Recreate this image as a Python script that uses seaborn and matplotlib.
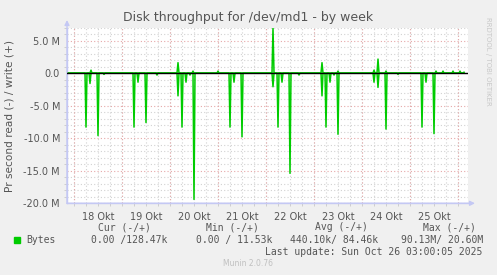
import numpy as np
import pandas as pd
import matplotlib
matplotlib.use("Agg")
import matplotlib.pyplot as plt
import seaborn as sns

# ---------------- data (hours since 18 Okt 00:00, values in MB/s) ----------------
day_labels = ["18 Okt", "19 Okt", "20 Okt", "21 Okt", "22 Okt", "23 Okt", "24 Okt", "25 Okt"]

read_hours = [6, 8, 12, 15, 30, 32, 36, 41.5, 52, 54, 56, 58, 60, 78, 80, 84,
              99.5, 102, 104, 108, 112.5, 124, 126, 128, 130, 132, 150, 152,
              156, 162, 174, 176, 180]
read_values = [8.3, 1.6, 9.6, 0.2, 8.3, 1.4, 7.6, 0.3, 3.5, 8.3, 1.4, 0.3, 19.4,
               8.3, 1.4, 9.8, 2.1, 8.3, 1.4, 15.4, 0.3, 3.5, 8.3, 1.4, 0.3,
               9.4, 1.4, 2.2, 8.6, 0.2, 8.3, 1.4, 9.3]

write_hours = [8.5, 52, 59.5, 72, 99.5, 124, 132, 150, 152, 156, 181, 184.5,
               189.5, 193, 195]
write_values = [0.45, 1.6, 0.3, 0.3, 6.9, 1.6, 0.3, 0.45, 2.15, 0.3, 0.3, 0.3,
                0.3, 0.3, 0.13]

y_ticks = [5, 0, -5, -10, -15, -20]
y_tick_labels = ["5.0 M", "0.0", "-5.0 M", "-10.0 M", "-15.0 M", "-20.0 M"]

legend_name = "Bytes"
legend_headers = ["Cur (-/+)", "Min (-/+)", "Avg (-/+)", "Max (-/+)"]
legend_values = ["0.00 /128.47k", "0.00 / 11.53k", "440.10k/ 84.46k", "90.13M/ 20.60M"]

# ---------------- build series on 30-minute grid ----------------
t = np.arange(-3.5, 195.01, 0.5)
read = np.zeros_like(t)
write = np.zeros_like(t)
for h, v in zip(read_hours, read_values):
    read[np.argmin(np.abs(t - h))] = -v
for h, v in zip(write_hours, write_values):
    write[np.argmin(np.abs(t - h))] = v
df = pd.concat([
    pd.DataFrame({"hour": t, "value": read, "dir": "read"}),
    pd.DataFrame({"hour": t, "value": write, "dir": "write"}),
])

# ---------------- figure ----------------
W, H = 497, 275
fig = plt.figure(figsize=(W / 100, H / 100), dpi=100, facecolor="#F0F0F0")
L, R, T, B = 67, 468, 27.5, 203.3
ax = fig.add_axes([L / W, 1 - B / H, (R - L) / W, (B - T) / H])
ax.set_facecolor("white")

xmin, xmax = -3.5, (R - 74) / 2.0
ymin, ymax = -20.0, (73 - T) / 6.5
ax.set_xlim(xmin, xmax)
ax.set_ylim(ymin, ymax)

green = "#00CC00"
sns.lineplot(data=df, x="hour", y="value", hue="dir",
             palette={"read": green, "write": green}, linewidth=1.1,
             legend=False, ax=ax, zorder=3, estimator=None)

# grid
grey = "#D2D2D2"
red = "#E6A8A8"
dot = (0, (1, 2))
ax.set_xticks([12 + 24 * i for i in range(len(day_labels))])
ax.set_xticklabels(day_labels)
ax.xaxis.remove_overlapping_locs = False
ax.set_xticks(np.arange(0, xmax, 6), minor=True)
ax.set_yticks(y_ticks)
ax.set_yticklabels(y_tick_labels)
ax.set_yticks(np.arange(-20, 8, 1), minor=True)
ax.grid(which="minor", axis="both", color=grey, linestyle=dot, linewidth=0.8, zorder=1)
ax.grid(which="major", axis="y", color=red, linestyle=dot, linewidth=0.8, zorder=1)
ax.grid(which="major", axis="x", visible=False)
for d in range(0, 9):
    ax.axvline(24 * d, color=red, linestyle=dot, linewidth=0.8, zorder=1.5)
ax.set_axisbelow(True)
ax.axhline(0, color="black", linewidth=1.0, zorder=4)

ax.tick_params(axis="both", which="major", length=0, labelsize=7,
               labelcolor="#555555", pad=5)
ax.tick_params(axis="x", which="major", pad=6)
ax.tick_params(axis="both", which="minor", length=2, width=0.6, color="#C8C8C8")
for lab in ax.get_xticklabels() + ax.get_yticklabels():
    lab.set_family("DejaVu Sans")

for s in ["top", "right"]:
    ax.spines[s].set_visible(False)
axis_col = "#C4C8F4"
for s in ["left", "bottom"]:
    ax.spines[s].set_color(axis_col)
    ax.spines[s].set_linewidth(1.0)

# axis arrows
ax.annotate("", xy=(L / W, 1 - 20 / H), xytext=(L / W, 1 - B / H),
            xycoords="figure fraction",
            arrowprops=dict(arrowstyle="-|>", color=axis_col, lw=1.0,
                            mutation_scale=7, shrinkA=0, shrinkB=0))
ax.annotate("", xy=(475 / W, 1 - B / H), xytext=(L / W, 1 - B / H),
            xycoords="figure fraction",
            arrowprops=dict(arrowstyle="-|>", color=axis_col, lw=1.0,
                            mutation_scale=7, shrinkA=0, shrinkB=0))

ax.set_xlabel("")
ax.set_ylabel("")

txt = "#555555"
fig.text(248 / W, 1 - 17 / H, "Disk throughput for /dev/md1 - by week",
         ha="center", va="center", fontsize=9, color=txt, family="DejaVu Sans")
fig.text(10 / W, 1 - 116.5 / H, "Pr second read (-) / write (+)", rotation=90,
         ha="center", va="center", fontsize=7.6, color=txt, family="DejaVu Sans")
fig.text(488 / W, 1 - 61 / H, "RRDTOOL / TOBI OETIKER", rotation=270,
         ha="center", va="center", fontsize=5, color="#C8C8C8", family="DejaVu Sans")

mono = "DejaVu Sans Mono"
fig.patches.append(plt.Rectangle((14 / W, 1 - 243 / H), 6 / W, 6 / H,
                                 transform=fig.transFigure, color=green))
fig.text(26 / W, 1 - 240 / H, legend_name, ha="left", va="center",
         fontsize=7, color=txt, family=mono)
hdr_right = [151, 259, 368, 476]
val_right = [167, 272, 378, 483]
for hx, h_ in zip(hdr_right, legend_headers):
    fig.text(hx / W, 1 - 227.5 / H, h_, ha="right", va="center",
             fontsize=7, color=txt, family=mono)
for vx, v_ in zip(val_right, legend_values):
    fig.text(vx / W, 1 - 240 / H, v_, ha="right", va="center",
             fontsize=7, color=txt, family=mono)
fig.text(482.5 / W, 1 - 252 / H, "Last update: Sun Oct 26 03:00:05 2025",
         ha="right", va="center", fontsize=7, color=txt, family=mono)
fig.text(248 / W, 1 - 264 / H, "Munin 2.0.76", ha="center", va="center",
         fontsize=5.5, color="#C0C0C0", family="DejaVu Sans")

fig.savefig("out.png", dpi=100, facecolor=fig.get_facecolor())
